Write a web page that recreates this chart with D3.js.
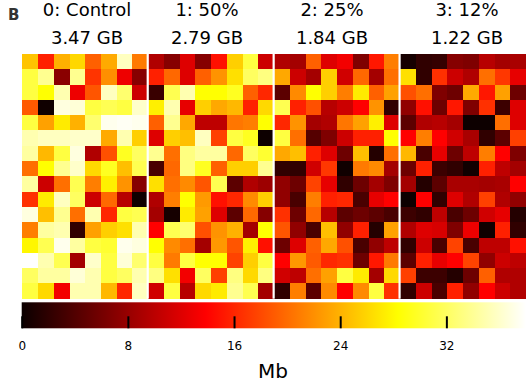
<!DOCTYPE html>
<html><head><meta charset="utf-8">
<script src="https://cdn.jsdelivr.net/npm/d3@7"></script>
<style>
html,body{margin:0;padding:0;background:#fff;}
svg{display:block;font-family:"DejaVu Sans",sans-serif;}
</style></head>
<body><svg id="c" width="526" height="383"></svg>
<script>
// ---- data ----
const titles = ["0: Control", "1: 50%", "2: 25%", "3: 12%"];
const sizes = ["3.47 GB", "2.79 GB", "1.84 GB", "1.22 GB"];
const colorTicks = [0, 8, 16, 24, 32];
const colorMax = 38;
const unitLabel = "Mb";
const panelLabel = "B";

const control = [
  [25,15.7,23.9,26.1,19.3,23.5,35.6,20.8],
  [30.8,33.8,7.2,33.8,16.8,22,12.9,7],
  [30.8,28.4,35,12.9,18.7,35.6,32.5,11],
  [19,0.3,36.8,36.5,30.8,31.5,30.8,36],
  [30.8,23,27.2,23.9,32.5,37.3,37.6,37.3],
  [35,35.6,35.6,36,36,23.5,35,25.6],
  [34.4,24.3,30.8,36.8,9.4,18.4,29.6,32],
  [20.2,28.4,33.8,36,26.2,29.6,24.7,31.4],
  [34.4,11,20.2,31.4,21,27.5,22.2,7],
  [16.6,27.2,35.6,32,11,19.8,9.8,0.3],
  [36.8,24.7,33.8,20.2,35,16.1,30.8,31.4],
  [21,34.4,35,2.1,23,25.6,26.6,35],
  [27.9,31.4,37.3,34.4,30.8,30.2,37.3,36.8],
  [38,35,31.4,8.7,36,30.8,36.5,32.5],
  [32,34.4,34.4,36.5,35,30.8,32,35],
  [30.8,26.2,13.2,35,35,24.3,16.1,35.6]
];
const p50 = [
  [9.4,7,12,7,14.8,25.6,30.8,11],
  [15.7,19.8,12,19.3,22.2,26.6,32,33.2],
  [2.6,31.4,35,28.4,28.4,29.6,19.3,16.1],
  [27.5,35,12.5,25.6,23.4,24.3,15.7,26.2],
  [19.3,33.8,23.4,10.2,10.2,20.6,21,28.4],
  [12,25.6,24.7,35.6,17.5,30.8,29.6,0.1],
  [33.8,20.2,33.2,34.4,34.4,19.8,32,30.2],
  [3.5,19.8,33.2,29.6,19.3,25.6,25.6,33.8],
  [26.6,20.2,21.7,18.7,31.4,4.6,9.4,8.3],
  [9.4,21,28.4,22.6,14.8,16.1,21.7,25.6],
  [8.7,0.6,27.2,23,12,4.6,19.8,7],
  [13.9,31.4,32.5,18.4,22.2,23.9,8.7,28.4],
  [28.4,21.7,20.2,8.7,22.5,18.7,27.5,14.8],
  [30.8,20.8,30.8,28.4,28.4,17.7,25.6,30.8],
  [33.2,26.6,13.2,32,17.5,33.2,26.2,33.2],
  [11.2,30.8,9.8,26.2,27.2,33.8,31.4,8.7]
];
const p25 = [
  [9.4,8.7,19.3,12,13.2,6.6,15.2,21],
  [23.4,11,8.7,25.6,11.2,19.8,8.7,20.2],
  [4.6,21.7,28.4,25.6,21,27.2,19.3,23],
  [31.4,15.7,18.4,9.8,11,13.9,22.2,2.1],
  [16.1,22.2,8.7,9.4,20.6,23,27.5,12],
  [30.8,20.2,4.2,6.6,11,15.7,15.7,28.4],
  [23.4,24.7,15.7,12,5.6,24.7,1.4,20.2],
  [2.1,2.1,11.2,17,0.3,20.8,21.7,8.7],
  [7.6,5.6,17.7,12.5,2.1,5.6,8.7,6.6],
  [7.6,3.5,21,15.7,16.1,3.5,12.5,13.9],
  [16.6,5.6,19.8,9.8,4.6,5.6,4.6,3.5],
  [18.7,7.6,3.5,24.7,7.6,15.7,1.4,23],
  [5.6,12,19.3,23.4,18.4,3.5,7.6,10.2],
  [13.9,22.5,19,16.1,16.6,5.6,15.2,20.8],
  [11.2,10.2,20.2,23,30.8,27.2,8.7,26.2],
  [2.1,21,4.6,21.7,13.9,21.7,30.8,16.6]
];
const p12 = [
  [0.6,2.1,2.4,7,6.6,9.8,8.7,9],
  [26.6,2.1,16.6,11,9.4,20.2,17,12.5],
  [18.4,20.2,6.6,5.6,23.5,15.2,23,5.6],
  [7.6,14.8,5.6,15.2,6.6,16.6,2.8,12],
  [4.6,9.4,9.8,8.7,0.1,0.1,20.2,12],
  [13.9,21,13.9,11.2,9,2.1,4.6,17.5],
  [24.3,3.5,12.5,5.6,10.2,21,13.9,6.6],
  [5.6,15.7,2.8,2.1,0.3,15.7,10.2,8.7],
  [8.7,1.4,4.6,9,9,8.7,9,13.9],
  [0.1,13.9,2.1,12,9.4,17.5,9.4,7.6],
  [2.8,2.1,10.2,3.5,5.6,11.2,12.5,1.4],
  [9.4,12,11.6,6.6,12.9,0.3,15.7,2.1],
  [2.1,11,3.5,17.7,3.5,10.2,10.2,14.8],
  [4.6,15.7,12.5,13.9,17.7,7.6,11,10.2],
  [17.5,2.8,2.8,1.4,5.6,19.3,9.4,9.4],
  [2.1,11,3.5,15.7,7.6,13.9,11,9.4]
];
const panels = [control, p50, p25, p12];

// ---- layout ----
const W = 526, H = 383;
const nCols = 8, nRows = 16;
const hmLeft = 22.3, hmRight = 526, hmTop = 54, hmBottom = 298.7;
const titleX = [87, 207, 332, 467];
const cbTop = 302.3, cbBottom = 328.3, cbLeft = 21.7, cbRight = 526;

const svg = d3.select("#c");

// matplotlib "hot" colormap (piecewise linear in RGB)
const color = d3.scaleLinear()
  .domain([0, 0.365079 * colorMax, 0.746032 * colorMax, colorMax])
  .range(["#0b0000", "#ff0000", "#ffff00", "#ffffff"])
  .interpolate(d3.interpolateRgb)
  .clamp(true);

const x = d3.scaleBand().domain(d3.range(panels.length * nCols)).range([hmLeft, hmRight]);
const y = d3.scaleBand().domain(d3.range(nRows)).range([hmTop, hmBottom]);

const cells = [];
panels.forEach((m, p) => m.forEach((row, r) => row.forEach((v, c) => cells.push({p, r, c, v}))));

svg.append("g").selectAll("rect").data(cells).join("rect")
  .attr("x", d => x(d.p * nCols + d.c))
  .attr("y", d => y(d.r))
  .attr("width", x.bandwidth() + 0.5)
  .attr("height", y.bandwidth() + 0.5)
  .attr("fill", d => color(d.v))
  .attr("shape-rendering", "crispEdges");

// separators
svg.append("g").selectAll("line").data(d3.range(1, panels.length)).join("line")
  .attr("x1", d => x(d * nCols) - 0.5).attr("x2", d => x(d * nCols) - 0.5)
  .attr("y1", hmTop).attr("y2", hmBottom)
  .attr("stroke", "#fff").attr("stroke-width", 2.2);

// titles
svg.append("g").selectAll("text").data(titles).join("text")
  .attr("x", (d, i) => titleX[i]).attr("y", 15.7)
  .attr("text-anchor", "middle").attr("font-size", 18).attr("fill", "#000")
  .text(d => d);
svg.append("g").selectAll("text").data(sizes).join("text")
  .attr("x", (d, i) => titleX[i]).attr("y", 44.3)
  .attr("text-anchor", "middle").attr("font-size", 18).attr("fill", "#000")
  .text(d => d);

svg.append("text").attr("x", 8).attr("y", 19.5)
  .attr("font-size", 15).attr("font-weight", "bold").attr("fill", "#333")
  .text(panelLabel);

// colorbar
const defs = svg.append("defs");
const grad = defs.append("linearGradient").attr("id", "hotgrad")
  .attr("x1", "0%").attr("x2", "100%").attr("y1", "0%").attr("y2", "0%");
color.domain().forEach((d, i) => {
  grad.append("stop").attr("offset", (d / colorMax * 100) + "%").attr("stop-color", color.range()[i]);
});
svg.append("rect").attr("x", cbLeft).attr("y", cbTop)
  .attr("width", cbRight - cbLeft).attr("height", cbBottom - cbTop)
  .attr("fill", "url(#hotgrad)");

const cx = d3.scaleLinear().domain([0, colorMax]).range([cbLeft, cbRight]);
const axis = d3.axisBottom(cx).tickValues(colorTicks).tickSize(-12).tickPadding(13).tickFormat(d3.format("d"));
const ag = svg.append("g").attr("transform", `translate(0,${cbBottom})`).call(axis);
ag.select(".domain").remove();
ag.selectAll(".tick line").attr("stroke", "#000").attr("stroke-width", 2);
ag.selectAll(".tick text").attr("font-size", 12).attr("fill", "#000")
  .attr("font-family", "DejaVu Sans, sans-serif");

svg.append("text").attr("x", 273).attr("y", 377.5)
  .attr("text-anchor", "middle").attr("font-size", 20).attr("fill", "#000")
  .text(unitLabel);
</script></body></html>
